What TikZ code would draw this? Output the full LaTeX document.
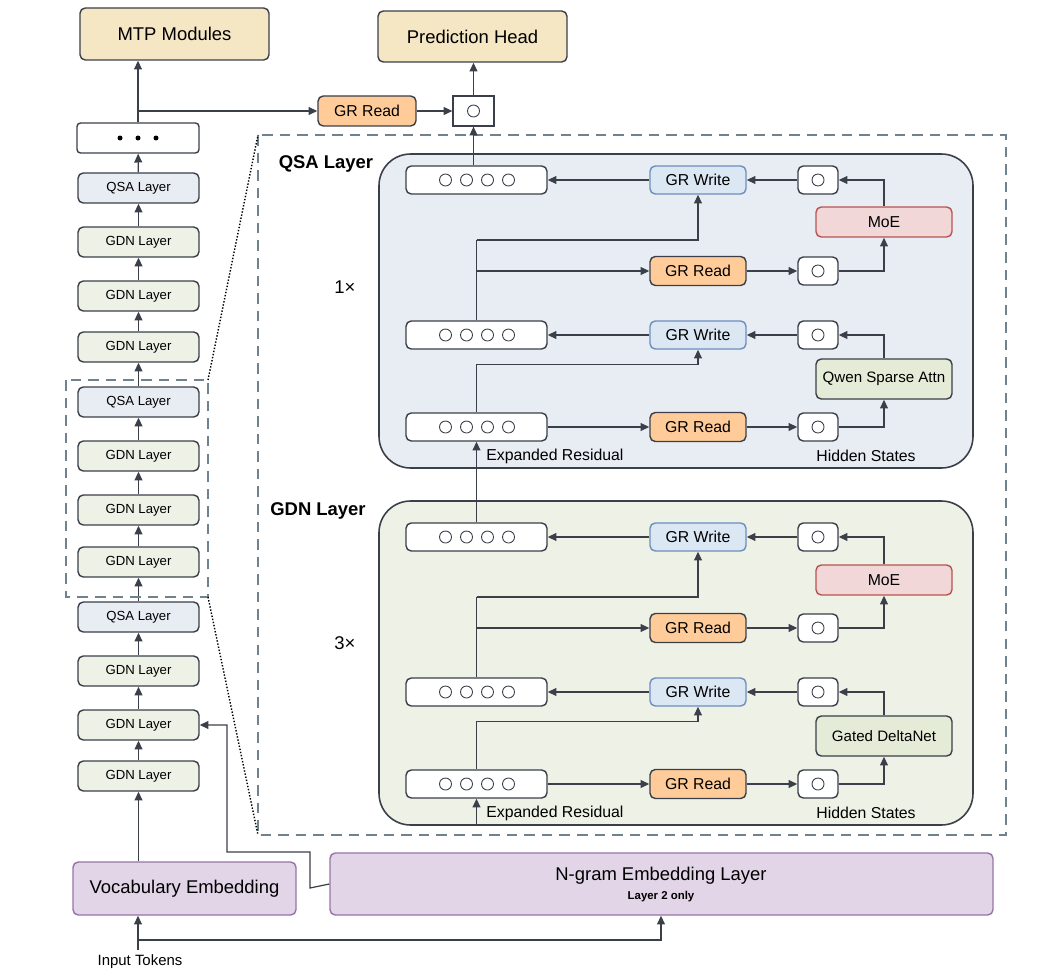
\documentclass[tikz,border=0pt]{standalone}
\usepackage{fontspec}
\setmainfont{Liberation Sans}
\usetikzlibrary{arrows.meta}
\definecolor{ln}{HTML}{3A3F4A}
\definecolor{beige}{HTML}{F5E6C4}
\definecolor{qsa}{HTML}{E8ECF3}
\definecolor{gdn}{HTML}{EDF1E6}
\definecolor{wrf}{HTML}{DCE7F4}
\definecolor{wrd}{HTML}{6C8EBF}
\definecolor{rdf}{HTML}{FFCC99}
\definecolor{moef}{HTML}{F2D7D9}
\definecolor{moed}{HTML}{B85450}
\definecolor{qwf}{HTML}{E4EBD6}
\definecolor{embf}{HTML}{E1D5E7}
\definecolor{embd}{HTML}{9673A6}
\definecolor{dsh}{HTML}{6F8290}
\tikzset{
 bx/.style={draw=ln,line width=0.8pt,rounded corners=3pt,inner sep=0pt,align=center},
 arr/.style={draw=ln,line width=0.7pt,-{Triangle[length=5pt,width=4.5pt]}},
 ln/.style={draw=ln,line width=0.7pt},
 hbox/.style={bx,fill=white,minimum width=40*0.02cm,minimum height=28*0.02cm,
   path picture={\draw[line width=0.5pt] (path picture bounding box.center) circle (0.12cm);}},
 rbox/.style={bx,fill=white,minimum width=141*0.02cm,minimum height=28*0.02cm,
   path picture={\foreach \d in {-31,-10,11,32}{\draw[line width=0.5pt] ([xshift=\d*0.02cm]path picture bounding box.center) circle (0.12cm);}}},
 wr/.style={bx,fill=wrf,draw=wrd,minimum width=96*0.02cm,minimum height=28*0.02cm,font=\fontsize{9}{10}\selectfont},
 rd/.style={bx,fill=rdf,minimum width=96*0.02cm,minimum height=29*0.02cm,font=\fontsize{9}{10}\selectfont},
 moe/.style={bx,fill=moef,draw=moed,minimum width=136*0.02cm,minimum height=30*0.02cm,font=\fontsize{9}{10}\selectfont},
 op/.style={bx,fill=qwf,minimum width=136*0.02cm,minimum height=40*0.02cm,font=\fontsize{8.6}{10}\selectfont},
 lay/.style={bx,minimum width=121*0.02cm,minimum height=30*0.02cm,font=\fontsize{7.5}{9}\selectfont},
 lab/.style={font=\fontsize{9}{10}\selectfont,inner sep=0pt},
}
\begin{document}
\begin{tikzpicture}[x=0.02cm,y=-0.02cm]
\useasboundingbox (0,0) rectangle (1038,980);
% top
\node[bx,fill=beige,minimum width=189*0.02cm,minimum height=52*0.02cm,font=\fontsize{10.5}{12}\selectfont] (mtp) at (174.5,34) {MTP Modules};
\node[bx,fill=beige,minimum width=189*0.02cm,minimum height=51*0.02cm,font=\fontsize{10.5}{12}\selectfont] (ph) at (472.5,36.5) {Prediction Head};
\node[bx,fill=rdf,minimum width=98*0.02cm,minimum height=30*0.02cm,font=\fontsize{9}{10}\selectfont] (tr) at (367,111) {GR Read};
\node[hbox,rounded corners=0pt,line width=0.7pt,minimum width=41*0.02cm,minimum height=30*0.02cm] (ts) at (473.5,111) {};
% left column
\node[bx,fill=white,rounded corners=2pt,minimum width=122*0.02cm,minimum height=30*0.02cm] (dots) at (138,138) {};
\foreach \d in {-18,0,18}{\fill ([xshift=\d*0.02cm]dots.center) circle (0.05cm);}
\foreach \n/\y/\t/\c in {l1/188/QSA/qsa,l2/242/GDN/gdn,l3/296/GDN/gdn,l4/347/GDN/gdn,l5/402/QSA/qsa,l6/456/GDN/gdn,l7/510/GDN/gdn,l8/562/GDN/gdn,l9/617/QSA/qsa,l10/671/GDN/gdn,l11/725/GDN/gdn,l12/776/GDN/gdn}{
  \node[lay,fill=\c] (\n) at (138.5,\y) {\t{} Layer};
}
\draw[arr] (l12) -- (l11); \draw[arr] (l11) -- (l10); \draw[arr] (l10) -- (l9);
\draw[arr] (l9) -- (l8); \draw[arr] (l8) -- (l7); \draw[arr] (l7) -- (l6); \draw[arr] (l6) -- (l5);
\draw[arr] (l5) -- (l4); \draw[arr] (l4) -- (l3); \draw[arr] (l3) -- (l2); \draw[arr] (l2) -- (l1);
\draw[arr] (l1) -- (dots);
\draw[arr] (dots.north) -- (dots.north|-mtp.south);
\coordinate (j) at (138,111);
\draw[arr] (j) -- (tr.west);
\draw[arr] (tr) -- (ts);
\draw[arr] (ts) -- (ts|-ph.south);
% dashed boxes
\draw[dsh,line width=0.9pt,dash pattern=on 6pt off 4pt] (66,380) rectangle (208,597);
\draw[dsh,line width=0.9pt,dash pattern=on 6pt off 4pt] (258,135) rectangle (1006,835);
\draw[densely dotted,line width=0.8pt] (208,380) -- (258,135);
\draw[densely dotted,line width=0.8pt] (208,597) -- (258,835);
% embeddings
\node[bx,fill=embf,draw=embd,minimum width=223*0.02cm,minimum height=53*0.02cm,font=\fontsize{10.5}{12}\selectfont] (voc) at (184.5,888.5) {Vocabulary Embedding};
\node[bx,fill=embf,draw=embd,minimum width=663*0.02cm,minimum height=62*0.02cm] (ng) at (661.5,884) {};
\node[font=\fontsize{10.5}{12}\selectfont,inner sep=0pt] at (661,876) {N-gram Embedding Layer};
\node[font=\fontsize{6.5}{7}\bfseries,inner sep=0pt] at (661,897) {Layer 2 only};
\node[lab,font=\fontsize{8.5}{10}\selectfont] (it) at (140,962) {Input Tokens};
\coordinate (ib) at (138,950);
\coordinate (ij) at (138,940);
\draw[arr] (ib) -- (voc.south-|ib);
\draw[arr] (ij) -| (ng.south-|661,0);
\draw[arr] (voc.north-|l12) -- (l12);
\draw[arr] (ng.west) -- (310,888) -- (310,852) -- (227,852) -- (227,725) -- (l11.east);
% panels
\draw[fill=qsa,draw=ln,line width=0.9pt,rounded corners=18pt] (379,154) rectangle (973,468);
\draw[fill=gdn,draw=ln,line width=0.9pt,rounded corners=18pt] (379,501) rectangle (973,825);
\node[font=\fontsize{10.5}{12}\bfseries,inner sep=0pt] at (326,164) {QSA Layer};
\node[font=\fontsize{10.5}{12}\selectfont,inner sep=0pt] at (345,287) {1×};
\node[font=\fontsize{10.5}{12}\bfseries,inner sep=0pt] at (318,511) {GDN Layer};
\node[font=\fontsize{10.5}{12}\selectfont,inner sep=0pt] at (345,643) {3×};
\foreach \p/\o/\yt/\ym/\yr/\yM/\yq/\yb in {q/Qwen Sparse Attn/180/222/271/335/379/427, g/Gated DeltaNet/537/580/628/692/736/784}{
  \node[rbox] (\p r1) at (476.5,\yt) {};
  \node[wr] (\p w1) at (698,\yt) {GR Write};
  \node[hbox] (\p h1) at (818,\yt) {};
  \node[moe] (\p m) at (884,\ym) {MoE};
  \node[rd] (\p d1) at (698,\yr) {GR Read};
  \node[hbox] (\p h2) at (818,\yr) {};
  \node[rbox] (\p r2) at (476.5,\yM) {};
  \node[wr] (\p w2) at (698,\yM) {GR Write};
  \node[hbox] (\p h3) at (818,\yM) {};
  \node[op] (\p o) at (884,\yq) {\o};
  \node[rbox] (\p r3) at (476.5,\yb) {};
  \node[rd] (\p d2) at (698,\yb) {GR Read};
  \node[hbox] (\p h4) at (818,\yb) {};
  \draw[arr] (\p w1) -- (\p r1);
  \draw[arr] (\p h1) -- (\p w1);
  \draw[arr] (\p m.north) |- (\p h1.east);
  \draw[arr] (\p d1) -- (\p h2);
  \draw[arr] (\p h2.east) -| (\p m.south);
  \draw[ln] (\p r2.north) -- ([yshift=31*0.02cm]\p d1.center-|\p r2.north) coordinate (\p jj);
  \draw[arr] (\p r2.north|-\p d1) -- (\p d1.west);
  \draw[arr] (\p jj) -| (\p w1.south);
  \draw[arr] (\p w2) -- (\p r2);
  \draw[arr] (\p h3) -- (\p w2);
  \draw[arr] (\p o.north) |- (\p h3.east);
  \draw[arr] (\p r3) -- (\p d2);
  \draw[arr] (\p d2) -- (\p h4);
  \draw[arr] (\p h4.east) -| (\p o.south);
  \draw[arr] (\p r3.north) -- ++(0,-48) -| (\p w2.south);
  \node[lab,anchor=west] at (486,\yb+29) {Expanded Residual};
  \node[lab] at (866,\yb+29) {Hidden States};
}
\draw[arr] (gr1.north) -- (qr3.south);
\draw[arr] (476.5,825) -- (gr3.south);
\draw[arr] (ts.south|-qr1.north) -- (ts.south);
\end{tikzpicture}
\end{document}
